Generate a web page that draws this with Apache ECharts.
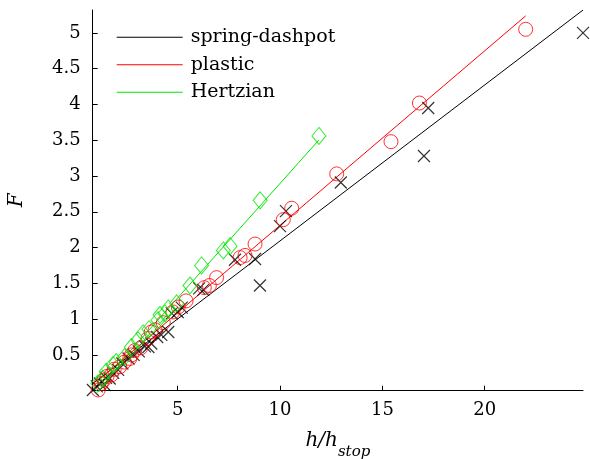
<!DOCTYPE html>
<html><head><meta charset="utf-8">
<script src="https://cdn.jsdelivr.net/npm/echarts@6/dist/echarts.min.js"></script>
<style>html,body{margin:0;padding:0;background:#fff}#c{width:590px;height:459px}</style>
</head><body><div id="c"></div>
<script>
// Data
var springData = [[0.86,0.01],[1.05,0.06],[1.2,0.1],[1.44,0.08],[1.5,0.18],[1.68,0.17],[1.85,0.25],[2.09,0.29],[2.3,0.38],[2.6,0.45],[2.85,0.5],[3.1,0.55],[3.4,0.62],[3.57,0.61],[3.71,0.66],[4.0,0.75],[4.2,0.78],[4.54,0.82],[4.71,1.08],[5.0,1.1],[5.2,1.16],[6.05,1.43],[6.25,1.41],[7.8,1.83],[8.78,1.84],[9.02,1.47],[10.0,2.3],[10.29,2.51],[12.97,2.91],[17.03,3.28],[17.24,3.95],[24.8,5.0]];
var plasticData = [[1.12,0.01],[1.27,0.1],[1.4,0.15],[1.55,0.2],[1.76,0.22],[1.9,0.3],[2.17,0.335],[2.4,0.4],[2.66,0.45],[2.74,0.5],[2.9,0.56],[3.2,0.6],[3.55,0.73],[3.71,0.82],[3.9,0.85],[4.3,0.95],[4.77,1.1],[5.03,1.17],[5.41,1.255],[6.3,1.44],[6.55,1.47],[6.9,1.58],[8.05,1.86],[8.29,1.89],[8.78,2.05],[10.16,2.39],[10.57,2.55],[12.77,3.03],[15.42,3.48],[16.81,4.02],[22.0,5.05]];
var hertzData = [[1.1,0.1],[1.35,0.17],[1.51,0.265],[1.84,0.36],[2.0,0.4],[2.41,0.47],[2.74,0.61],[3.06,0.707],[3.31,0.80],[3.6,0.86],[4.04,0.986],[4.14,1.06],[4.38,1.08],[4.54,1.15],[4.95,1.22],[5.6,1.47],[6.17,1.75],[7.23,1.96],[7.56,2.02],[9.03,2.66],[11.9,3.56]];
// Linear fits: [slope, intercept, xStart, xEnd]
var springFit = [0.218, -0.087, 0.85, 24.8];
var plasticFit = [0.244, -0.13, 1.1, 22.0];
var hertzFit = [0.320, -0.304, 1.1, 11.9];
var xTicks = [5, 10, 15, 20];
var yTicks = [0.5, 1, 1.5, 2, 2.5, 3, 3.5, 4, 4.5, 5];

function fitLine(f){ return [[f[2], f[0]*f[2]+f[1]], [f[3], f[0]*f[3]+f[1]]]; }
var FONT = 'DejaVu Serif';
var GREEN = '#00e600';
var crossPath = 'path://M0,0 L10,10 M10,0 L0,10';

var chart = echarts.init(document.getElementById('c'), null, {renderer:'canvas'});
chart.setOption({
  backgroundColor: '#fff',
  animation: false,
  grid: {left: 92.7, right: 7, top: 10, bottom: 68.3, outerBoundsMode: 'none', containLabel: false},
  legend: {
    orient: 'vertical', left: 111.7, top: 22.3, itemWidth: 66, itemHeight: 1, itemGap: 7.5,
    icon: 'rect',
    data: ['spring-dashpot', 'plastic', 'Hertzian'],
    textStyle: {fontFamily: FONT, fontSize: 19, lineHeight: 20, color: '#000', padding: [0,0,0,3]}
  },
  xAxis: {
    type: 'value', min: 0.85, max: 24.8,
    axisLine: {lineStyle: {color: '#000', width: 1}},
    axisTick: {inside: true, length: 5, lineStyle: {color: '#000'}, customValues: xTicks},
    axisLabel: {customValues: xTicks, color: '#000', fontFamily: FONT, fontSize: 18, margin: 11},
    splitLine: {show: false},
    name: '{a|h/h}{b|stop}', nameLocation: 'middle', nameGap: 40,
    nameTextStyle: {rich: {a: {fontFamily: FONT, fontStyle: 'italic', fontSize: 20, color: '#000'},
      b: {fontFamily: FONT, fontStyle: 'italic', fontSize: 15, color: '#000', verticalAlign: 'bottom', padding: [0,0,-9,0]}}}
  },
  yAxis: {
    type: 'value', min: 0, max: 5.32,
    axisLine: {show: true, lineStyle: {color: '#000', width: 1}},
    axisTick: {show: true, inside: true, length: 5, lineStyle: {color: '#000'}, customValues: yTicks},
    axisLabel: {customValues: yTicks, color: '#000', fontFamily: FONT, fontSize: 18, margin: 12},
    splitLine: {show: false},
    name: 'F', nameLocation: 'middle', nameGap: 66,
    nameTextStyle: {fontFamily: FONT, fontStyle: 'italic', fontSize: 20, color: '#000'}
  },
  series: [
    {name: 'spring-dashpot', type: 'line', data: fitLine(springFit), symbol: 'none', lineStyle: {color: '#000', width: 1}, itemStyle: {color: '#000'}, z: 2},
    {name: 'plastic', type: 'line', data: fitLine(plasticFit), symbol: 'none', lineStyle: {color: '#ff0000', width: 1}, itemStyle: {color: '#ff0000'}, z: 2},
    {name: 'Hertzian', type: 'line', data: fitLine(hertzFit), symbol: 'none', lineStyle: {color: GREEN, width: 1}, itemStyle: {color: GREEN}, z: 2},
    {name: 'sd-pts', type: 'scatter', data: springData, symbol: crossPath, symbolSize: 12,
      itemStyle: {color: 'none', borderColor: '#000', borderWidth: 1.2}, z: 3},
    {name: 'pl-pts', type: 'scatter', data: plasticData, symbol: 'circle', symbolSize: 14,
      itemStyle: {color: 'none', borderColor: '#ff0000', borderWidth: 1}, z: 3},
    {name: 'hz-pts', type: 'scatter', data: hertzData, symbol: 'diamond', symbolSize: [14, 17],
      itemStyle: {color: 'none', borderColor: GREEN, borderWidth: 1}, z: 3}
  ]
});
</script></body></html>
